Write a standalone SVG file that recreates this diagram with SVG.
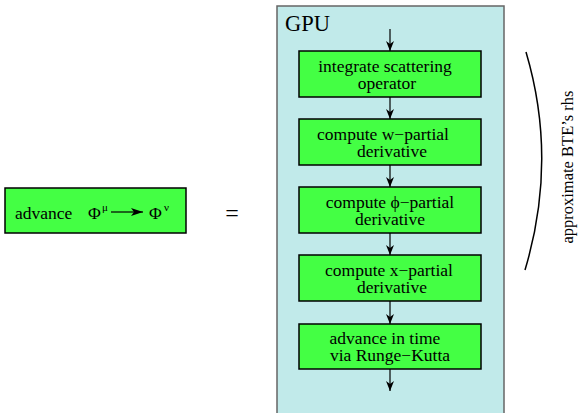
<svg xmlns="http://www.w3.org/2000/svg" width="579" height="413" viewBox="0 0 579 413">
<defs>
<marker id="ah" markerWidth="10" markerHeight="8" refX="10" refY="4" orient="auto" markerUnits="userSpaceOnUse" viewBox="0 0 10 8">
<path d="M0,0 L10,4 L0,8 L3,4 Z" fill="#000"/>
</marker>
<marker id="ahr" markerWidth="12" markerHeight="8" refX="12" refY="4" orient="auto" markerUnits="userSpaceOnUse" viewBox="0 0 12 8">
<path d="M0,0 L12,4 L0,8 L3,4 Z" fill="#000"/>
</marker>
</defs>
<style>
text{font-family:"Liberation Serif","Times New Roman",serif;fill:#000}
.box{fill:#44ff44;stroke:#000;stroke-width:1.5}
.t{font-size:17.5px;text-anchor:middle}
.c{stroke:#000;stroke-width:1.2;fill:none}
</style>
<rect width="579" height="413" fill="#fff"/>
<g id="gpu">
<rect x="277" y="6" width="227" height="420" fill="#c1eaea" stroke="#666" stroke-width="1.5"/>
<text x="285" y="31" font-size="22.5">GPU</text>
</g>
<g id="advance">
<rect class="box" x="5" y="188" width="181" height="45"/>
<text x="15" y="219" font-size="17.5">advance</text>
<text x="88" y="219" font-size="17.5">Φ</text>
<text x="102" y="211" font-size="11">μ</text>
<text x="149" y="219" font-size="17.5">Φ</text>
<text x="164" y="211" font-size="11">ν</text>
<line x1="111" y1="212" x2="143" y2="212" class="c" marker-end="url(#ahr)"/>
</g>
<g id="equals"><text x="232" y="221" font-size="24" text-anchor="middle" font-family="Liberation Sans, sans-serif">=</text></g>
<g id="n1"><rect class="box" x="299" y="51" width="182" height="46"/>
<text class="t" x="385" y="72">integrate scattering</text><text class="t" x="387" y="89">operator</text></g>
<g id="n2"><rect class="box" x="299" y="119" width="182" height="46"/>
<text class="t" x="383" y="140">compute  w−partial</text><text class="t" x="392" y="157">derivative</text></g>
<g id="n3"><rect class="box" x="299" y="187" width="182" height="46"/>
<text class="t" x="390" y="208">compute  ϕ−partial</text><text class="t" x="390" y="225">derivative</text></g>
<g id="n4"><rect class="box" x="299" y="255" width="182" height="46"/>
<text class="t" x="389" y="276">compute x−partial</text><text class="t" x="392" y="293">derivative</text></g>
<g id="n5"><rect class="box" x="299" y="324" width="182" height="45"/>
<text class="t" x="385" y="344">advance in time</text><text class="t" x="390" y="361">via Runge−Kutta</text></g>
<g id="connectors">
<line class="c" x1="390" y1="29" x2="390" y2="51" marker-end="url(#ah)"/>
<line class="c" x1="390" y1="97" x2="390" y2="119" marker-end="url(#ah)"/>
<line class="c" x1="390" y1="165" x2="390" y2="187" marker-end="url(#ah)"/>
<line class="c" x1="390" y1="233" x2="390" y2="255" marker-end="url(#ah)"/>
<line class="c" x1="390" y1="301" x2="390" y2="324" marker-end="url(#ah)"/>
<line class="c" x1="390" y1="369" x2="390" y2="391" marker-end="url(#ah)"/>
</g>
<g id="brace">
<path d="M526,52 Q558,160 525,270" fill="none" stroke="#000" stroke-width="1.5"/>
<text transform="translate(573,167) rotate(-90)" font-size="16.5" text-anchor="middle">approximate BTE’s rhs</text>
</g>
</svg>
